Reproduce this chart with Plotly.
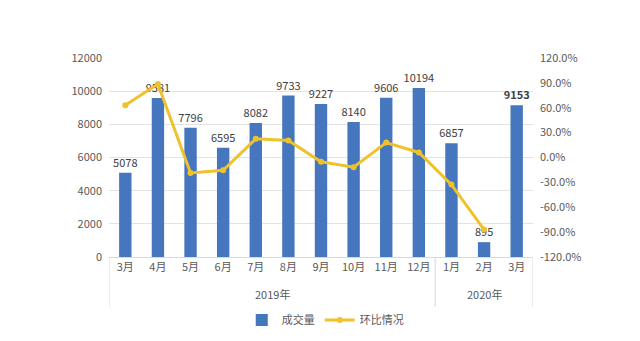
import plotly.graph_objects as go
from plotly.subplots import make_subplots

months = ["3月", "4月", "5月", "6月", "7月", "8月", "9月", "10月", "11月", "12月",
          "1月", "2月", "3月"]
year_groups = ["2019年", "2020年"]
group_sizes = [10, 3]
volume = [5078, 9581, 7796, 6595, 8082, 9733, 9227, 8140, 9606, 10194, 6857, 895, 9153]
mom_pct = [63.0, 88.7, -18.6, -15.4, 22.5, 20.4, -5.2, -11.8, 18.0, 6.1, -32.7, -86.9, None]

left_ticks = [0, 2000, 4000, 6000, 8000, 10000, 12000]
right_ticks = [-120, -90, -60, -30, 0, 30, 60, 90, 120]

FONT = "Noto Sans CJK SC, Microsoft YaHei, sans-serif"
GREY = "#595959"
LINE_GREY = "#d9d9d9"
BLUE = "#4677BE"
GOLD = "#EFC12A"

pos = list(range(len(months)))

fig = make_subplots(specs=[[{"secondary_y": True}]])

labels = [f"<b>{v}</b>" if i == len(volume) - 1 else str(v) for i, v in enumerate(volume)]

fig.add_trace(go.Bar(
    x=pos, y=volume, name="成交量",
    marker=dict(color=BLUE, line=dict(width=0)),
    text=labels, textposition="outside", cliponaxis=False, constraintext="none",
    textfont=dict(size=11, color="#404040", family=FONT),
), secondary_y=False)

fig.add_trace(go.Scatter(
    x=pos, y=mom_pct, name="环比情况",
    mode="lines+markers",
    line=dict(color=GOLD, width=3),
    marker=dict(color=GOLD, size=6),
    connectgaps=False, cliponaxis=False,
), secondary_y=True)

# Year group labels and the divider lines between groups
shapes = []
annotations = []
start = -0.5
for name, n in zip(year_groups, group_sizes):
    end = start + n
    annotations.append(dict(
        x=(start + end) / 2, xref="x", y=-0.186, yref="paper",
        text=name, showarrow=False, yanchor="middle",
        font=dict(size=11, color=GREY, family=FONT),
    ))
    start = end
edges = [-0.5]
acc = -0.5
for n in group_sizes:
    acc += n
    edges.append(acc)
for e in edges:
    shapes.append(dict(
        type="line", xref="x", yref="paper", x0=e, x1=e, y0=0, y1=-0.25,
        line=dict(color=LINE_GREY, width=1),
    ))

fig.update_layout(
    width=640, height=341,
    margin=dict(l=109, r=107, t=58, b=84, autoexpand=False),
    paper_bgcolor="white", plot_bgcolor="white",
    bargap=0.62,
    font=dict(family=FONT, size=11, color=GREY),
    showlegend=True,
    legend=dict(orientation="h", x=0.51, xanchor="center", y=-0.317, yanchor="middle",
                font=dict(size=11, color=GREY), tracegroupgap=0),
    shapes=shapes,
    annotations=annotations,
)

fig.update_xaxes(
    domain=[0, 1],
    range=[-0.5, len(months) - 0.5],
    tickvals=pos, ticktext=months, tickangle=0, automargin=False,
    showgrid=False, showline=True, linecolor=LINE_GREY, linewidth=1,
    zeroline=False, ticks="", tickfont=dict(size=11, color=GREY),
)

fig.update_yaxes(
    range=[0, 12000], tickvals=left_ticks, ticktext=[str(t) for t in left_ticks],
    showgrid=True, gridcolor="#e3e3e3", gridwidth=1, zeroline=False, automargin=False,
    showline=False, tickfont=dict(size=11, color=GREY), ticks="",
    ticklabelstandoff=6,
    secondary_y=False,
)

fig.update_yaxes(
    range=[-120, 120], tickvals=right_ticks,
    ticktext=[f"{t:.1f}%" for t in right_ticks],
    showgrid=False, zeroline=False, showline=False, ticks="", automargin=False,
    tickfont=dict(size=11, color=GREY), ticklabelstandoff=6,
    secondary_y=True,
)

fig.write_html("out.html")
